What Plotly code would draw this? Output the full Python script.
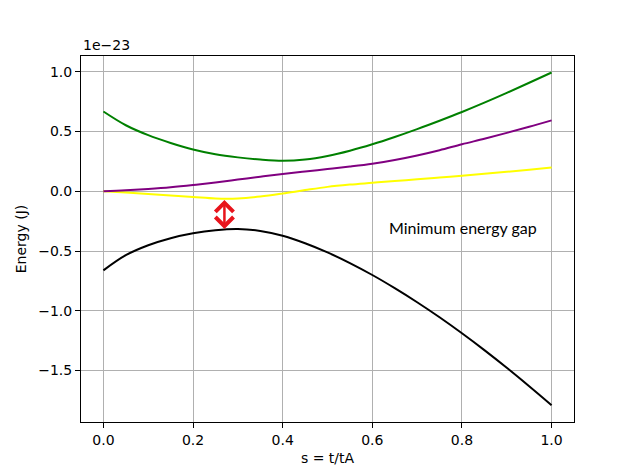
import plotly.graph_objects as go

# energy levels vs s = t/tA, values in units of 1e-23 J
s = [0.0, 0.05, 0.1, 0.15, 0.2, 0.25, 0.3, 0.35, 0.4, 0.45, 0.5,
     0.55, 0.6, 0.65, 0.7, 0.75, 0.8, 0.85, 0.9, 0.95, 1.0]

e_green = [0.668, 0.553, 0.47, 0.405, 0.35, 0.31, 0.284, 0.266, 0.256, 0.266, 0.296,
           0.34, 0.394, 0.455, 0.521, 0.591, 0.664, 0.742, 0.824, 0.909, 0.995]
e_purple = [0.0, 0.008, 0.019, 0.033, 0.052, 0.074, 0.098, 0.122, 0.145, 0.166, 0.186,
            0.207, 0.231, 0.262, 0.30, 0.344, 0.394, 0.44, 0.489, 0.54, 0.594]
e_yellow = [0.0, -0.01, -0.022, -0.035, -0.047, -0.06, -0.06, -0.044, -0.019, 0.01, 0.037,
            0.056, 0.071, 0.086, 0.10, 0.115, 0.13, 0.146, 0.163, 0.181, 0.2]
e_black = [-0.662, -0.535, -0.452, -0.393, -0.352, -0.326, -0.316, -0.332, -0.372, -0.435, -0.512,
           -0.601, -0.701, -0.811, -0.929, -1.055, -1.189, -1.33, -1.478, -1.632, -1.791]

gap_s = 0.27
gap_top = -0.06
gap_bottom = -0.315

x_ticks = [0.0, 0.2, 0.4, 0.6, 0.8, 1.0]
y_ticks = [-1.5, -1.0, -0.5, 0.0, 0.5, 1.0]

FONT = "DejaVu Sans"

fig = go.Figure()

# drawing order: black, yellow, purple, green
for vals, col in [(e_black, "black"), (e_yellow, "#ffff00"),
                  (e_purple, "#800080"), (e_green, "#008000")]:
    fig.add_trace(go.Scatter(
        x=s, y=vals, mode="lines",
        line=dict(color=col, width=2, shape="spline", smoothing=1.0),
        showlegend=False, hoverinfo="skip"
    ))

# double-headed arrow for the gap
fig.add_annotation(
    x=gap_s, y=gap_bottom, ax=gap_s, ay=gap_top,
    xref="x", yref="y", axref="x", ayref="y",
    text="", showarrow=True, arrowside="end+start",
    arrowhead=4, startarrowhead=4, arrowsize=1.4, startarrowsize=1.4,
    arrowwidth=2.5, arrowcolor="#e8141c"
)

fig.add_annotation(
    x=0.633, y=-0.3, xref="x", yref="y", text="Minimum energy gap",
    showarrow=False, xanchor="left", yanchor="middle",
    font=dict(family="Lato", size=16, color="black")
)

# offset text like matplotlib
fig.add_annotation(
    x=0, y=1, xref="paper", yref="paper", text="1e\u221223",
    showarrow=False, xanchor="left", yanchor="bottom", yshift=1,
    font=dict(family=FONT, size=14, color="black")
)

axis_common = dict(
    showline=True, linecolor="black", linewidth=1, mirror=True,
    ticks="outside", ticklen=5, tickwidth=1, tickcolor="black",
    showgrid=True, gridcolor="#b0b0b0", gridwidth=1,
    zeroline=False, tickformat=".1f",
    tickfont=dict(family=FONT, size=14, color="black"),
)

fig.update_xaxes(range=[-0.05, 1.05], tickvals=x_ticks,
                 title=dict(text="s = t/tA", standoff=6,
                            font=dict(family=FONT, size=14, color="black")),
                 **axis_common)
fig.update_yaxes(range=[-1.932, 1.133], tickvals=y_ticks,
                 title=dict(text="Energy (J)", standoff=8,
                            font=dict(family=FONT, size=14, color="black")),
                 **axis_common)

# page body adds an 8px offset, so the figure is a bit smaller than the window
fig.update_layout(
    width=622, height=468,
    margin=dict(l=71, r=56, t=48, b=51),
    plot_bgcolor="white", paper_bgcolor="white",
    font=dict(family=FONT, size=14, color="black"),
)

fig.write_html("out.html")
